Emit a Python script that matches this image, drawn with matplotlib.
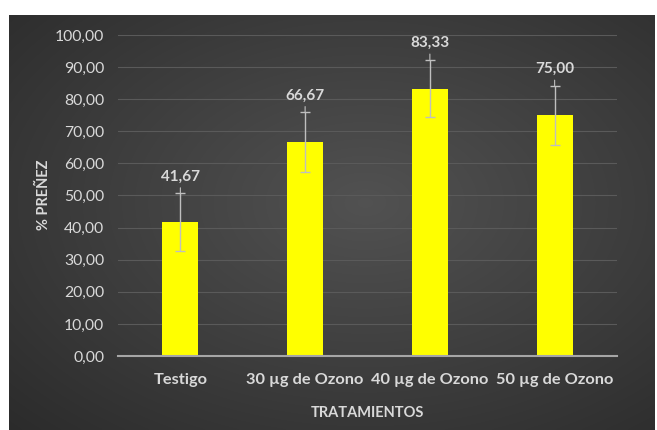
import numpy as np
import matplotlib
matplotlib.use("Agg")
import matplotlib.pyplot as plt

categories = ["Testigo", "30 µg de Ozono", "40 µg de Ozono", "50 µg de Ozono"]
values = [41.67, 66.67, 83.33, 75.00]
errors = [9.0, 9.3, 9.0, 9.2]
value_labels = ["41,67", "66,67", "83,33", "75,00"]
yticks = [0, 10, 20, 30, 40, 50, 60, 70, 80, 90, 100]
ytick_labels = ["0,00", "10,00", "20,00", "30,00", "40,00", "50,00",
                "60,00", "70,00", "80,00", "90,00", "100,00"]

plt.rcParams['font.family'] = ['Lato', 'DejaVu Sans']
TXT = "#D9D9D9"

fig = plt.figure(figsize=(6.57, 4.30), dpi=100, facecolor="white")

# dark radial-gradient background panel
bg = fig.add_axes([9/657, 0, 1 - 9/657 - 2/657, 1 - 15/430])
bg.set_axis_off()
ny, nx = 200, 300
yy, xx = np.mgrid[0:ny, 0:nx]
cx, cy = nx * 0.55, ny * 0.45
d = np.sqrt(((xx - cx) / nx) ** 2 + ((yy - cy) / ny) ** 2)
d = d / d.max()
c0 = np.array([0.32, 0.32, 0.32])
c1 = np.array([0.17, 0.17, 0.17])
img = c0[None, None, :] * (1 - d[..., None]) + c1[None, None, :] * d[..., None]
bg.imshow(img, aspect="auto", extent=[0, 1, 0, 1], interpolation="bilinear")
bg.set_xlim(0, 1); bg.set_ylim(0, 1)

ax = fig.add_axes([118/657, 1 - 356/430, (617 - 118)/657, (356 - 35)/430])
ax.patch.set_alpha(0)
x = np.arange(len(categories))
ax.bar(x, values, width=0.29, color="#FFFF00", zorder=3)
ax.errorbar(x, values, yerr=errors, fmt="none", ecolor="#BFBFBF",
            elinewidth=1.0, capsize=3.5, capthick=1.0, zorder=4)
for xi, v, e, lab in zip(x, values, errors, value_labels):
    top = v + e
    ax.annotate(lab, xy=(xi, top), xytext=(0, 12), textcoords="offset points",
                ha="center", va="center", fontsize=11, fontweight="bold",
                color=TXT, zorder=5)
    ax.annotate("", xy=(xi, top), xytext=(0, 4), textcoords="offset points",
                arrowprops=dict(arrowstyle="-", color="#BFBFBF", lw=0.8,
                                shrinkA=0, shrinkB=0), zorder=4)

ax.set_xlim(-0.5, len(categories) - 0.5)
ax.set_ylim(0, 100)
ax.set_yticks(yticks)
ax.set_yticklabels(ytick_labels, fontsize=11.3, color=TXT)
ax.set_xticks(x)
ax.set_xticklabels(categories, fontsize=11.8, fontweight="bold", color=TXT)
ax.tick_params(axis="both", length=0)
ax.tick_params(axis="y", pad=10)
ax.tick_params(axis="x", pad=12)
ax.grid(axis="y", color="#5A5A5A", linewidth=0.8, zorder=0)
ax.set_axisbelow(True)
for s in ["top", "right", "left"]:
    ax.spines[s].set_visible(False)
ax.spines["bottom"].set_color("#A6A6A6")
ax.spines["bottom"].set_linewidth(1.5)
ax.spines["bottom"].set_zorder(5)

fig.text(44/657, 1 - 195/430, "% PREÑEZ", rotation=90, ha="center", va="center",
         fontsize=10.5, fontweight="bold", color=TXT)
fig.text(367/657, 1 - 413/430, "TRATAMIENTOS", ha="center", va="center",
         fontsize=10.5, fontweight="bold", color=TXT)

fig.savefig("out.png", dpi=100, facecolor="white")
